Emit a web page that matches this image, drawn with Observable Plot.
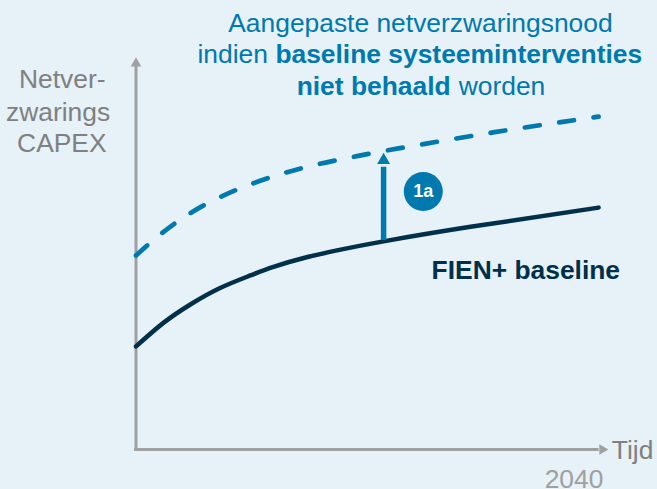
<!DOCTYPE html>
<html>
<head>
<meta charset="utf-8">
<style>
html,body{margin:0;padding:0;background:#E6F1F8;}
svg{display:block;}
</style>
<script src="https://cdn.jsdelivr.net/npm/d3@7"></script>
<script src="https://cdn.jsdelivr.net/npm/@observablehq/plot@0.6"></script>
</head>
<body>
<div id="chart"></div>
<script>
const tijdBaseline = [0,5.8,11.5,17.8,24.2,29.1,36.3,43.3,52.4,70.8,97.9];
const capexBaseline = [26.3,32.3,37.0,41.2,44.4,46.6,49.1,51.0,53.1,56.8,61.7];
const tijdAangepast = [0,5.5,11.5,18.0,24.8,31.6,38.6,45.8,53.2,67.6,82.0,97.9];
const capexAangepast = [49.5,55.2,60.3,64.5,67.9,70.6,72.8,74.6,76.3,79.3,82.1,84.9];

const baseline = tijdBaseline.map((x,i)=>({x,y:capexBaseline[i]}));
const aangepast = tijdAangepast.map((x,i)=>({x,y:capexAangepast[i]}));

const BLUE="#0079AE", DARK="#00304A", AXIS="#A0A0A0", LABEL="#808080";
const FONT="'Liberation Sans', Arial, sans-serif";
const txt=(t,x,y,o={})=>Plot.text([t],{text:d=>d,x:()=>x,y:()=>y,fontSize:26.4,fontFamily:FONT,lineAnchor:"bottom",fill:BLUE,...o});

const plot = Plot.plot({
  width:657,height:489,
  marginTop:0,marginRight:0,marginBottom:0,marginLeft:0,
  style:{background:"#E6F1F8",fontFamily:FONT},
  x:{domain:[0,100],range:[135.5,608],axis:null},
  y:{domain:[0,100],range:[449,57],axis:null},
  marks:[
    // axes
    Plot.ruleX([0],{y1:0,y2:98,stroke:AXIS,strokeWidth:3}),
    Plot.ruleY([0],{x1:-0.3,x2:98,stroke:AXIS,strokeWidth:3}),
    Plot.dot([{x:0,y:98.5}],{x:"x",y:"y",symbol:"triangle",r:3.9,fill:AXIS,stroke:"none"}),
    Plot.dot([{x:98.7,y:0}],{x:"x",y:"y",symbol:"triangle",r:3.9,rotate:90,fill:AXIS,stroke:"none"}),
    // series
    Plot.line(aangepast,{x:"x",y:"y",curve:"natural",stroke:BLUE,strokeWidth:4.7,strokeDasharray:"15,19.7",strokeLinecap:"round"}),
    Plot.line(baseline,{x:"x",y:"y",curve:"natural",stroke:DARK,strokeWidth:4.5,strokeLinecap:"round"}),
    // 1a arrow
    Plot.ruleX([52.4],{y1:53.3,y2:72,stroke:BLUE,strokeWidth:5.5}),
    Plot.dot([{x:52.4,y:73.8}],{x:"x",y:"y",symbol:"triangle",r:4.8,fill:BLUE,stroke:"none"}),
    Plot.dot([{x:60.8,y:65.8}],{x:"x",y:"y",r:19.5,fill:BLUE,stroke:"none"}),
    txt("1a",60.8,65.8,{fill:"#FFFFFF",fontWeight:"bold",fontSize:18,lineAnchor:"middle"}),
    // title
    txt("Aangepaste netverzwaringsnood",60.2,106.6,{textAnchor:"middle"}),
    txt("indien",13.0,98.6,{textAnchor:"start"}),
    txt("baseline systeeminterventies",29.5,98.6,{textAnchor:"start",fontWeight:"bold"}),
    txt("niet behaald",34.0,90.5,{textAnchor:"start",fontWeight:"bold"}),
    txt("worden",68.3,90.5,{textAnchor:"start"}),
    // y label
    txt("Netver-",-15.6,92.1,{fill:LABEL,textAnchor:"middle"}),
    txt("zwarings",-16.5,83.9,{fill:LABEL,textAnchor:"middle"}),
    txt("CAPEX",-15.7,75.8,{fill:LABEL,textAnchor:"middle"}),
    // x label
    txt("Tijd",100.7,-2.3,{fill:LABEL,textAnchor:"start"}),
    txt("2040",92.7,-9.7,{fill:"#A0A0A0",textAnchor:"middle"}),
    // series label
    txt("FIEN+ baseline",82.5,43.4,{fill:DARK,fontWeight:"bold",textAnchor:"middle"})
  ]
});
document.getElementById("chart").appendChild(plot);
</script>
</body>
</html>
